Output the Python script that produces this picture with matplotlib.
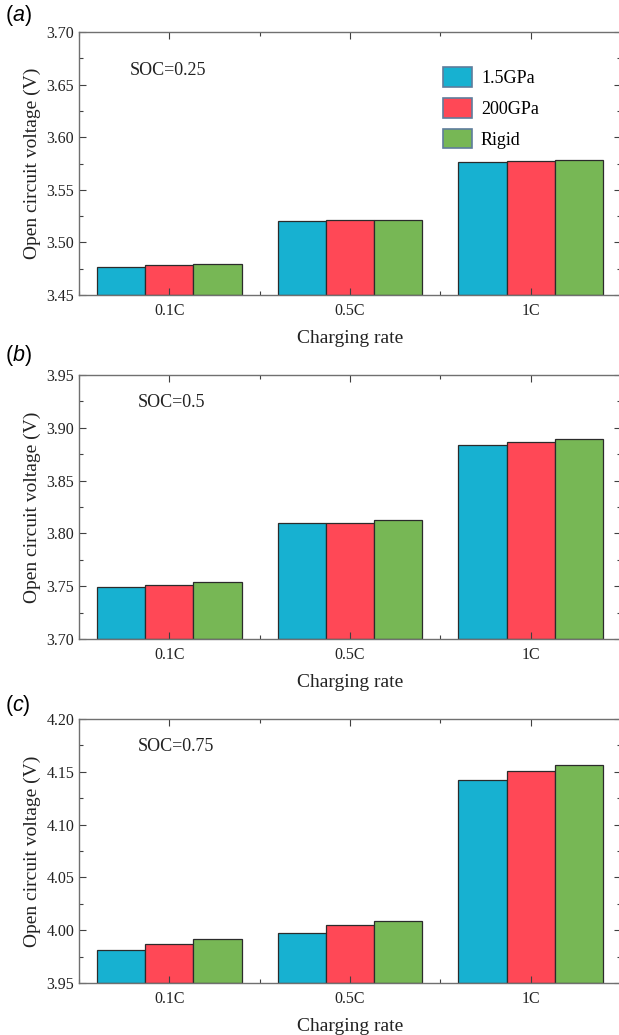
import numpy as np
import matplotlib.pyplot as plt
from matplotlib.ticker import MultipleLocator

plt.rcParams['font.family'] = ['Liberation Serif', 'DejaVu Serif']
plt.rcParams['mathtext.fontset'] = 'custom'
plt.rcParams['mathtext.it'] = 'Liberation Sans:italic'
plt.rcParams['mathtext.rm'] = 'Liberation Sans'

rates = ['0.1C', '0.5C', '1C']
series = ['1.5GPa', '200GPa', 'Rigid']
colors = ['#17B1D1', '#FF4856', '#77B755']

# open circuit voltage (V) per charging rate, one row per modulus case
ocv_soc025 = [[3.477, 3.520, 3.5765],
              [3.4785, 3.521, 3.5775],
              [3.4795, 3.5215, 3.578]]
ocv_soc05 = [[3.749, 3.8095, 3.8835],
             [3.7515, 3.8097, 3.887],
             [3.754, 3.8125, 3.889]]
ocv_soc075 = [[3.9812, 3.9978, 4.1425],
              [3.9867, 4.0045, 4.151],
              [3.9915, 4.0085, 4.1565]]

panels = [
    ('a', 'SOC=0.25', ocv_soc025, (3.45, 3.70)),
    ('b', 'SOC=0.5', ocv_soc05, (3.70, 3.95)),
    ('c', 'SOC=0.75', ocv_soc075, (3.95, 4.20)),
]

W, H = 619, 1035
fig = plt.figure(figsize=(W / 100, H / 100), dpi=100)

# axes boxes in pixels: (left, top, right, bottom)
boxes = [(79, 32, 621, 295), (79, 375, 621, 639), (79, 719, 621, 983)]
soc_pos = [(0.094, 0.852), (0.109, 0.894), (0.109, 0.894)]
tag_y = [15, 355, 705]

x = np.arange(1, len(rates) + 1)
bw = 0.267
spine_col = '#707070'

for k, (tag, soc, vals, ylim) in enumerate(panels):
    l, t, r, b = boxes[k]
    ax = fig.add_axes([l / W, 1 - b / H, (r - l) / W, (b - t) / H])
    for i, name in enumerate(series):
        ax.bar(x + (i - 1) * bw, np.array(vals[i]) - ylim[0], bw, bottom=ylim[0],
               color=colors[i], edgecolor='#2b2b2b', linewidth=0.9, label=name)
    ax.set_xlim(0.5, 3.5)
    ax.set_ylim(*ylim)
    ax.set_xticks(x)
    ax.set_xticklabels(rates)
    ax.xaxis.set_minor_locator(MultipleLocator(0.5))
    ax.yaxis.set_major_locator(MultipleLocator(0.05))
    ax.yaxis.set_minor_locator(MultipleLocator(0.025))
    ax.yaxis.set_major_formatter(plt.FormatStrFormatter('%.2f'))
    ax.tick_params(which='both', direction='in', top=True, right=True,
                   color='#404040', labelsize=11.5, labelcolor='#222222')
    ax.tick_params(which='major', length=5, width=0.8)
    ax.tick_params(which='minor', length=3, width=0.8)
    ax.tick_params(axis='x', pad=6)
    for s in ax.spines.values():
        s.set_color(spine_col)
        s.set_linewidth(1.0)
    ax.set_xlabel('Charging rate', fontsize=14, labelpad=8, color='#222222')
    ax.set_ylabel('Open circuit voltage (V)', fontsize=14, labelpad=4, color='#222222')
    ax.text(soc_pos[k][0], soc_pos[k][1], soc, transform=ax.transAxes,
            fontsize=13, va='center', ha='left', color='#222222')
    fig.text(5 / W, 1 - tag_y[k] / H, '(' + r'$\it{' + tag + '}$' + ')',
             fontsize=15.5, family='Liberation Sans', va='center', ha='left')
    if k == 0:
        leg = ax.legend(loc='upper left', bbox_to_anchor=(0.655, 0.90),
                        frameon=False, fontsize=13, borderpad=0,
                        handlelength=1.6, handleheight=1.3, labelspacing=0.6,
                        handletextpad=0.5)
        for h in leg.legend_handles:
            h.set_edgecolor('#5f7d9c')
            h.set_linewidth(1.2)

fig.savefig('out.png', dpi=100)
